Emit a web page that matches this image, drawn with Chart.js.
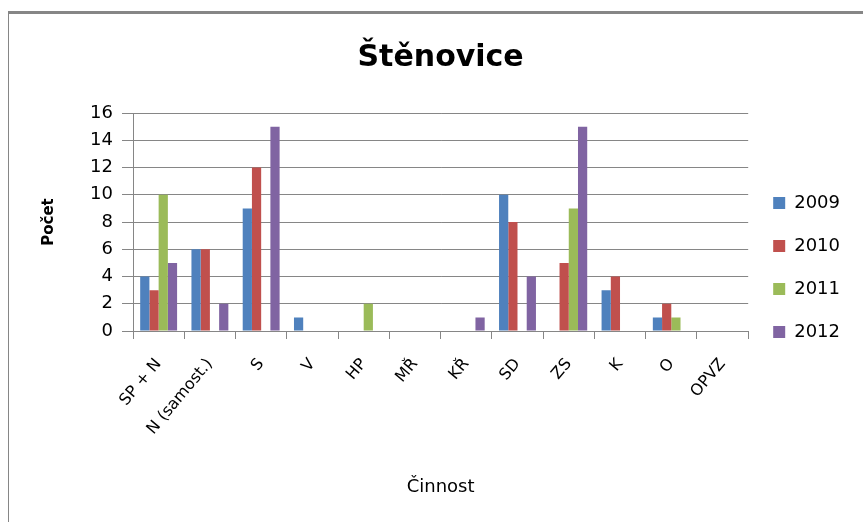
<!DOCTYPE html>
<html lang="cs">
<head>
<meta charset="utf-8">
<title>Štěnovice</title>
<script src="https://cdn.jsdelivr.net/npm/chart.js@4"></script>
<style>
  html, body { margin: 0; padding: 0; background: #fff; overflow: hidden; }
  .frame {
    position: absolute; left: 8px; top: 11px; width: 860px; height: 520px;
    border-top: 3px solid #868686; border-left: 1px solid #868686;
  }
  #wrap { position: absolute; left: 0; top: 0; width: 863px; height: 522px; }
</style>
</head>
<body>
<div class="frame"></div>
<div id="wrap"><canvas id="chart"></canvas></div>
<script>
// data
const categories = ["SP + N", "N (samost.)", "S", "V", "HP", "MŘ", "KŘ", "SD", "ZS", "K", "O", "OPVZ"];
const years = ["2009", "2010", "2011", "2012"];
const values2009 = [4, 6, 9, 1, 0, 0, 0, 10, 0, 3, 1, 0];
const values2010 = [3, 6, 12, 0, 0, 0, 0, 8, 5, 4, 2, 0];
const values2011 = [10, 0, 0, 0, 2, 0, 0, 0, 9, 0, 1, 0];
const values2012 = [5, 2, 15, 0, 0, 0, 1, 4, 15, 0, 0, 0];
const yTicks = [0, 2, 4, 6, 8, 10, 12, 14, 16];

const seriesValues = [values2009, values2010, values2011, values2012];
const colors = ["#4F81BD", "#C0504D", "#9BBB59", "#8064A2"];
const gridGray = "#868686";

Chart.defaults.font.family = "'DejaVu Sans', sans-serif";
Chart.defaults.color = "#000";

const ctx = document.getElementById("chart").getContext("2d");

const chart = new Chart(ctx, {
  type: "bar",
  data: {
    labels: categories,
    datasets: years.map((year, i) => ({
      label: year,
      data: seriesValues[i],
      backgroundColor: colors[i],
      borderWidth: 0,
      categoryPercentage: 0.72,
      barPercentage: 1,
    })),
  },
  options: {
    responsive: true,
    maintainAspectRatio: false,
    animation: false,
    layout: {
      padding: { left: 16, right: 13, top: 0, bottom: 0 },
    },
    plugins: {
      title: {
        display: true,
        text: "Štěnovice",
        fullSize: false,
        color: "#000",
        font: { size: 30, weight: "bold" },
        padding: { top: 40, bottom: 37 },
      },
      legend: {
        position: "right",
        align: "start",
        title: { display: true, text: "", padding: { top: 154.6, bottom: 0 } },
        labels: {
          boxWidth: 12,
          boxHeight: 12,
          padding: 25,
          color: "#000",
          font: { size: 18 },
        },
      },
      tooltip: { enabled: false },
    },
    scales: {
      x: {
        grid: {
          drawOnChartArea: false,
          offset: true,
          color: gridGray,
          tickLength: 8,
        },
        border: { color: gridGray },
        ticks: {
          autoSkip: false,
          minRotation: 50,
          maxRotation: 50,
          padding: 16,
          color: "#000",
          font: { size: 16 },
        },
        title: {
          display: true,
          text: "Činnost",
          color: "#000",
          font: { size: 18 },
          padding: { top: 0, bottom: 24 },
        },
        afterFit: (scale) => {
          scale.height = 191;
        },
      },
      y: {
        min: yTicks[0],
        max: yTicks[yTicks.length - 1],
        afterBuildTicks: (scale) => {
          scale.ticks = yTicks.map((v) => ({ value: v }));
        },
        ticks: {
          padding: 9,
          color: "#000",
          font: { size: 18 },
        },
        grid: {
          color: gridGray,
          tickLength: 11,
        },
        border: { color: gridGray },
        title: {
          display: true,
          text: "Počet",
          color: "#000",
          font: { size: 15, weight: "bold" },
          padding: { top: 24, bottom: 0 },
        },
        afterFit: (scale) => {
          scale.width = 117;
        },
      },
    },
  },
});
</script>
</body>
</html>
